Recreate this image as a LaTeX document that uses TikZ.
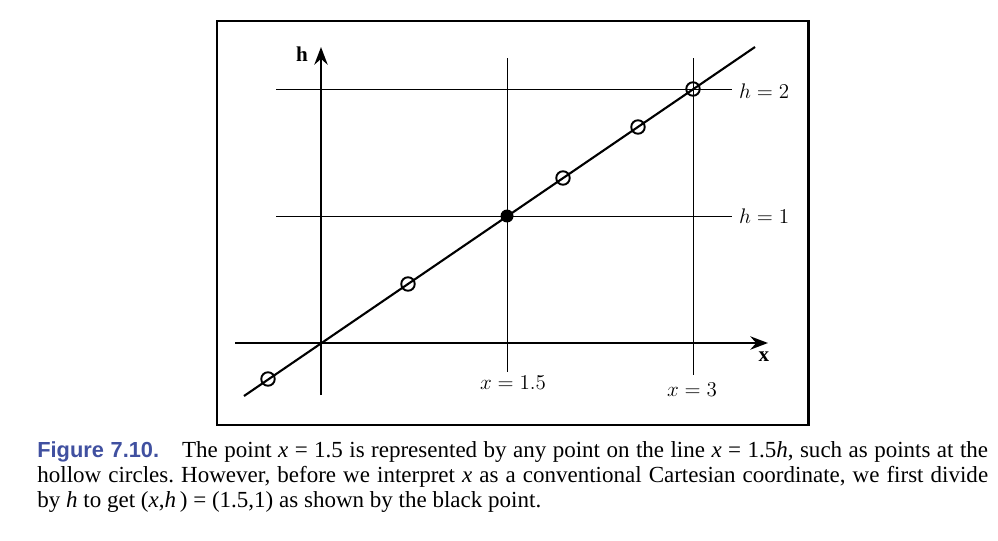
\documentclass[tikz,border=0pt]{standalone}
\usepackage{fontspec}
\setmainfont{Liberation Serif}
\newfontfamily\capsans{Liberation Sans}
\usetikzlibrary{arrows.meta}
\definecolor{capblue}{RGB}{64,80,160}

\tikzset{
  axis/.style={line width=1.7pt,-{Stealth[length=10pt,width=7.5pt]}},
  guide/.style={line width=0.5pt},
  hollow/.style={circle,draw,line width=1.1pt,minimum size=0.27cm,inner sep=0pt},
  blackdot/.style={circle,fill,minimum size=0.26cm,inner sep=0pt},
  lbl/.style={font=\fontsize{12}{14}\selectfont}
}

\begin{document}
\begin{tikzpicture}[x=0.02cm,y=-0.02cm]
    \useasboundingbox (0,0) rectangle (998,541);
    \draw[line width=1.7pt] (217,21) rectangle (808,425);
    % axes
        \coordinate (O) at (321,343);
        \coordinate (hb) at (321,395);
        \coordinate (ht) at (321,47);
        \coordinate (xl) at (235,343);
        \coordinate (xr) at (768,343);
        \draw[axis] (hb) -- (ht);
        \draw[axis] (xl) -- (xr);
        \node[lbl] (hlab) at (302,54) {\textbf{h}};
        \node[lbl] (xlab) at (764,357) {\textbf{x}};
    % guide lines
        \coordinate (h1a) at (276,216);
        \coordinate (h1b) at (732,216);
        \coordinate (h2a) at (276,89);
        \coordinate (h2b) at (732,89);
        \coordinate (v1a) at (507,58);
        \coordinate (v1b) at (507,372);
        \coordinate (v2a) at (693,58);
        \coordinate (v2b) at (693,375);
        \draw[guide] (h1a) -- (h1b);
        \draw[guide] (h2a) -- (h2b);
        \draw[guide] (v1a) -- (v1b);
        \draw[guide] (v2a) -- (v2b);
        \node[lbl,anchor=west] (h1lab) at (733,216) {$h=1$};
        \node[lbl,anchor=west] (h2lab) at (733,91) {$h=2$};
        \node[lbl] (v1lab) at (513,383) {$x=1.5$};
        \node[lbl] (v2lab) at (692,390) {$x=3$};
    % the line x = 1.5h
        \coordinate (lo) at (244,396);
        \coordinate (hi) at (755,47);
        \draw[line width=1.2pt] (lo) -- (hi);
        \node[hollow] (p1) at (268,379) {};
        \node[hollow] (p2) at (408,284) {};
        \node[hollow] (p3) at (563,178) {};
        \node[hollow] (p4) at (638,127) {};
        \node[hollow] (p5) at (693,89) {};
        \node[blackdot] (pb) at (507,216) {};
    % caption
        \node[anchor=north west,inner sep=0pt,text width=19.02cm,align=justify,
              font=\fontsize{13.1}{14.4}\selectfont\frenchspacing] (cap) at (37,441)
        {{\capsans\bfseries\fontsize{12.4}{14.4}\selectfont\color{capblue}Figure 7.10.}\quad The point \textit{x} = 1.5 is represented by any point on the line \textit{x} = 1.5\textit{h}, such as points at the\linebreak
        hollow circles. However, before we interpret \textit{x} as a conventional Cartesian coordinate, we first divide\linebreak
        by \textit{h} to get (\textit{x},\textit{h}\,) = (1.5,1) as shown by the black point.};
    \end{tikzpicture}
\end{document}
